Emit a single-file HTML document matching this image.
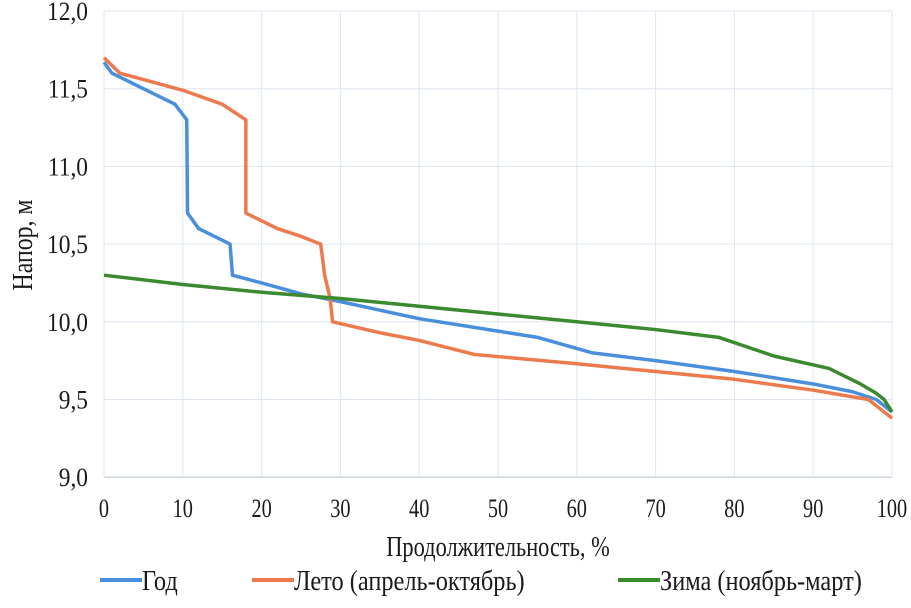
<!DOCTYPE html>
<html><head><meta charset="utf-8"><style>
body{margin:0;background:#fff;width:911px;height:603px;overflow:hidden}
svg text{font-family:"Liberation Serif",serif;fill:#1a1a1a}
</style></head><body>
<svg id="s" width="911" height="603" xmlns="http://www.w3.org/2000/svg"></svg>
<script>
const s=document.getElementById('s');
const X=p=>104+7.88*p, Y=v=>11+(12-v)*155.4;
let h='';
for(let i=0;i<=10;i++){h+=`<line x1="${X(i*10)}" y1="${Y(12)}" x2="${X(i*10)}" y2="${Y(9)}" stroke="#dde6ef" stroke-width="1"/>`;
 h+=`<text x="${X(i*10)}" y="517" font-size="26" text-anchor="middle" transform="translate(${X(i*10)},0) scale(0.78,1) translate(${-X(i*10)},0)">${i*10}</text>`;}
for(let j=0;j<=6;j++){const v=9+j*0.5;h+=`<line x1="${X(0)}" y1="${Y(v)}" x2="${X(100)}" y2="${Y(v)}" stroke="#dde6ef" stroke-width="1"/>`;
 h+=`<text x="88" y="${Y(v)+9}" font-size="26" text-anchor="end" transform="translate(88,0) scale(0.9,1) translate(-88,0)">${v.toFixed(1).replace('.',',')}</text>`;}
h+=`<line x1="${X(0)}" y1="${Y(9)}" x2="${X(100)}" y2="${Y(9)}" stroke="#ccd6e0" stroke-width="1.5"/>`;
const ser=[
['#4a8fdc',[[0,11.67],[1,11.6],[5,11.5],[9,11.4],[10.5,11.3],[10.6,10.7],[12,10.6],[14,10.55],[16,10.5],[16.3,10.3],[20,10.25],[25,10.18],[30,10.13],[40,10.02],[50,9.94],[55,9.9],[62,9.8],[70,9.75],[80,9.68],[90,9.6],[95,9.55],[98,9.5],[100,9.42]]],
['#ec7a4d',[[0,11.7],[2,11.6],[10,11.49],[15,11.4],[18,11.3],[18,10.7],[22,10.6],[25,10.55],[27.5,10.5],[28,10.3],[28.7,10.15],[29,10.0],[35,9.93],[40,9.88],[47,9.79],[60,9.73],[70,9.68],[80,9.63],[90,9.56],[97,9.5],[100,9.38]]],
['#3b8a2f',[[0,10.3],[10,10.24],[20,10.19],[30,10.15],[40,10.1],[50,10.05],[60,10.0],[70,9.95],[78,9.9],[85,9.78],[92,9.7],[96,9.6],[98,9.54],[99,9.5],[100,9.42]]]];
for(const [c,pts] of ser){h+=`<polyline fill="none" stroke="${c}" stroke-width="3.5" stroke-linejoin="round" points="${pts.map(p=>X(p[0])+','+Y(p[1])).join(' ')}"/>`;}
h+=`<text x="498" y="556" font-size="28" text-anchor="middle" transform="translate(498,0) scale(0.8,1) translate(-498,0)">Продолжительность, %</text>`;
h+=`<text transform="translate(32,245) rotate(-90) scale(0.85,1)" font-size="28" text-anchor="middle">Напор, м</text>`;
const lg=[['#4a8fdc',100,'Год'],['#ec7a4d',252,'Лето (апрель-октябрь)'],['#3b8a2f',618,'Зима (ноябрь-март)']];
for(const [c,x,t] of lg){h+=`<line x1="${x}" y1="580" x2="${x+42}" y2="580" stroke="${c}" stroke-width="4"/>`;
 h+=`<text x="${x+42}" y="590" font-size="29" transform="translate(${x+42},0) scale(0.84,1) translate(${-(x+42)},0)">${t}</text>`;}
s.innerHTML=h;
</script>
</body></html>
